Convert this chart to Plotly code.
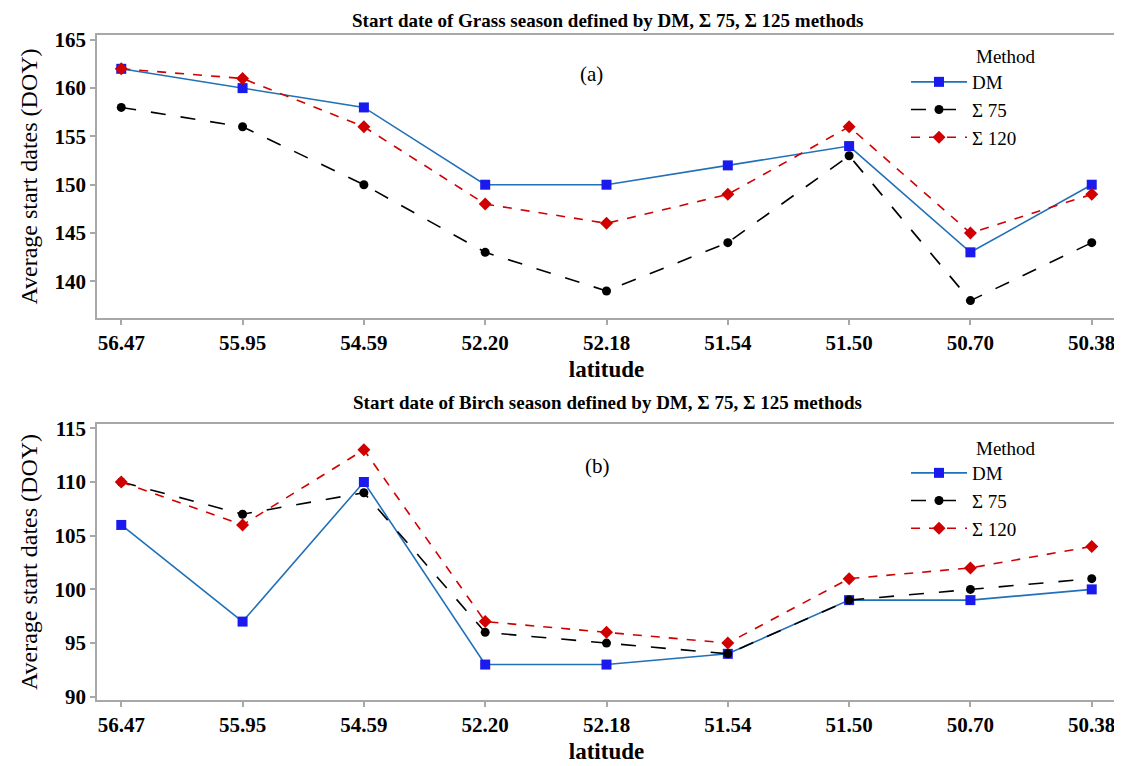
import plotly.graph_objects as go

latitudes = ["56.47", "55.95", "54.59", "52.20", "52.18", "51.54", "51.50", "50.70", "50.38"]
series_names = ["DM", "Σ 75", "Σ 120"]

grass_dm = [162, 160, 158, 150, 150, 152, 154, 143, 150]
grass_s75 = [158, 156, 150, 143, 139, 144, 153, 138, 144]
grass_s120 = [162, 161, 156, 148, 146, 149, 156, 145, 149]

birch_dm = [106, 97, 110, 93, 93, 94, 99, 99, 100]
birch_s75 = [110, 107, 109, 96, 95, 94, 99, 100, 101]
birch_s120 = [110, 106, 113, 97, 96, 95, 101, 102, 104]

title_a = "Start date of Grass season defined by DM, Σ 75, Σ 125 methods"
title_b = "Start date of Birch season defined by DM, Σ 75, Σ 125 methods"
ytitle_words = ["Average", "start", "dates"]

SERIF = "Liberation Serif"
OFF = 8  # page body margin
W, H = 1122 - OFF, 766 - OFF

styles = [
    dict(line=dict(color="#2170b8", width=1.6, dash="solid"),
         marker=dict(symbol="square", size=10, color="#1a1aee")),
    dict(line=dict(color="black", width=1.6, dash="longdash"),
         marker=dict(symbol="circle", size=9, color="black")),
    dict(line=dict(color="#d00000", width=1.6, dash="dash"),
         marker=dict(symbol="diamond", size=10, color="#d00000")),
]

fig = go.Figure()

def add_panel(vals, xa, ya, legend):
    for name, v, st in zip(series_names, vals, styles):
        fig.add_trace(go.Scatter(
            x=latitudes, y=v, name=name, mode="lines+markers",
            xaxis=xa, yaxis=ya, legend=legend,
            line=st["line"], marker=st["marker"],
        ))

add_panel([grass_dm, grass_s75, grass_s120], "x", "y", "legend")
add_panel([birch_dm, birch_s75, birch_s120], "x2", "y2", "legend2")

def px_x(p):
    return (p - OFF) / W

def px_y(p):
    return 1 - (p - OFF) / H

axis_common = dict(
    showgrid=False, zeroline=False, showline=True, mirror=True,
    linecolor="#a8a8a8", linewidth=1.5, ticks="outside", tickcolor="#a8a8a8",
    ticklen=5, tickwidth=1.5, automargin=False,
)

ytitle = " ".join(ytitle_words) + " (DOY)"
xdom = [px_x(97), px_x(1116)]

def xaxis(anchor):
    return dict(domain=xdom, anchor=anchor, type="category", range=[-0.2, 8.2],
                tickfont=dict(size=21, family=SERIF, weight="bold"),
                title=dict(text="<b>latitude</b>", font=dict(size=23, family=SERIF), standoff=7),
                **axis_common)

def yaxis(anchor, dom, rng, tv):
    return dict(domain=dom, anchor=anchor, range=rng, tickvals=tv,
                tickfont=dict(size=21, family=SERIF, weight="bold"),
                title=dict(text=ytitle, font=dict(size=24, family=SERIF), standoff=10),
                **axis_common)

def legend(ytop):
    return dict(x=px_x(906), y=px_y(ytop), xanchor="left", yanchor="top",
                bgcolor="rgba(0,0,0,0)", font=dict(size=19, family=SERIF),
                itemwidth=56, tracegroupgap=0)

fig.update_layout(
    width=W, height=H,
    paper_bgcolor="white", plot_bgcolor="white",
    margin=dict(l=0, r=0, t=0, b=0),
    font=dict(family=SERIF, color="black"),
    xaxis=xaxis("y"),
    yaxis=yaxis("x", [px_y(318), px_y(35)], [136.2, 165.5], [140, 145, 150, 155, 160, 165]),
    xaxis2=xaxis("y2"),
    yaxis2=yaxis("x2", [px_y(700), px_y(424)], [89.7, 115.4], [90, 95, 100, 105, 110, 115]),
    legend=legend(63),
    legend2=legend(454),
    showlegend=True,
)

def ann(text, x, y, size, xanchor="center"):
    fig.add_annotation(text=text, x=px_x(x), y=px_y(y), xref="paper", yref="paper",
                       xanchor=xanchor, yanchor="middle",
                       showarrow=False, font=dict(size=size, family=SERIF))

ann("<b>" + title_a + "</b>", 607, 20, 19)
ann("<b>" + title_b + "</b>", 607, 402, 19)
ann("(a)", 591, 74, 21)
ann("(b)", 597, 466, 21)
ann("Method", 974, 56, 19, "left")
ann("Method", 974, 448, 19, "left")

fig.write_html("out.html")
